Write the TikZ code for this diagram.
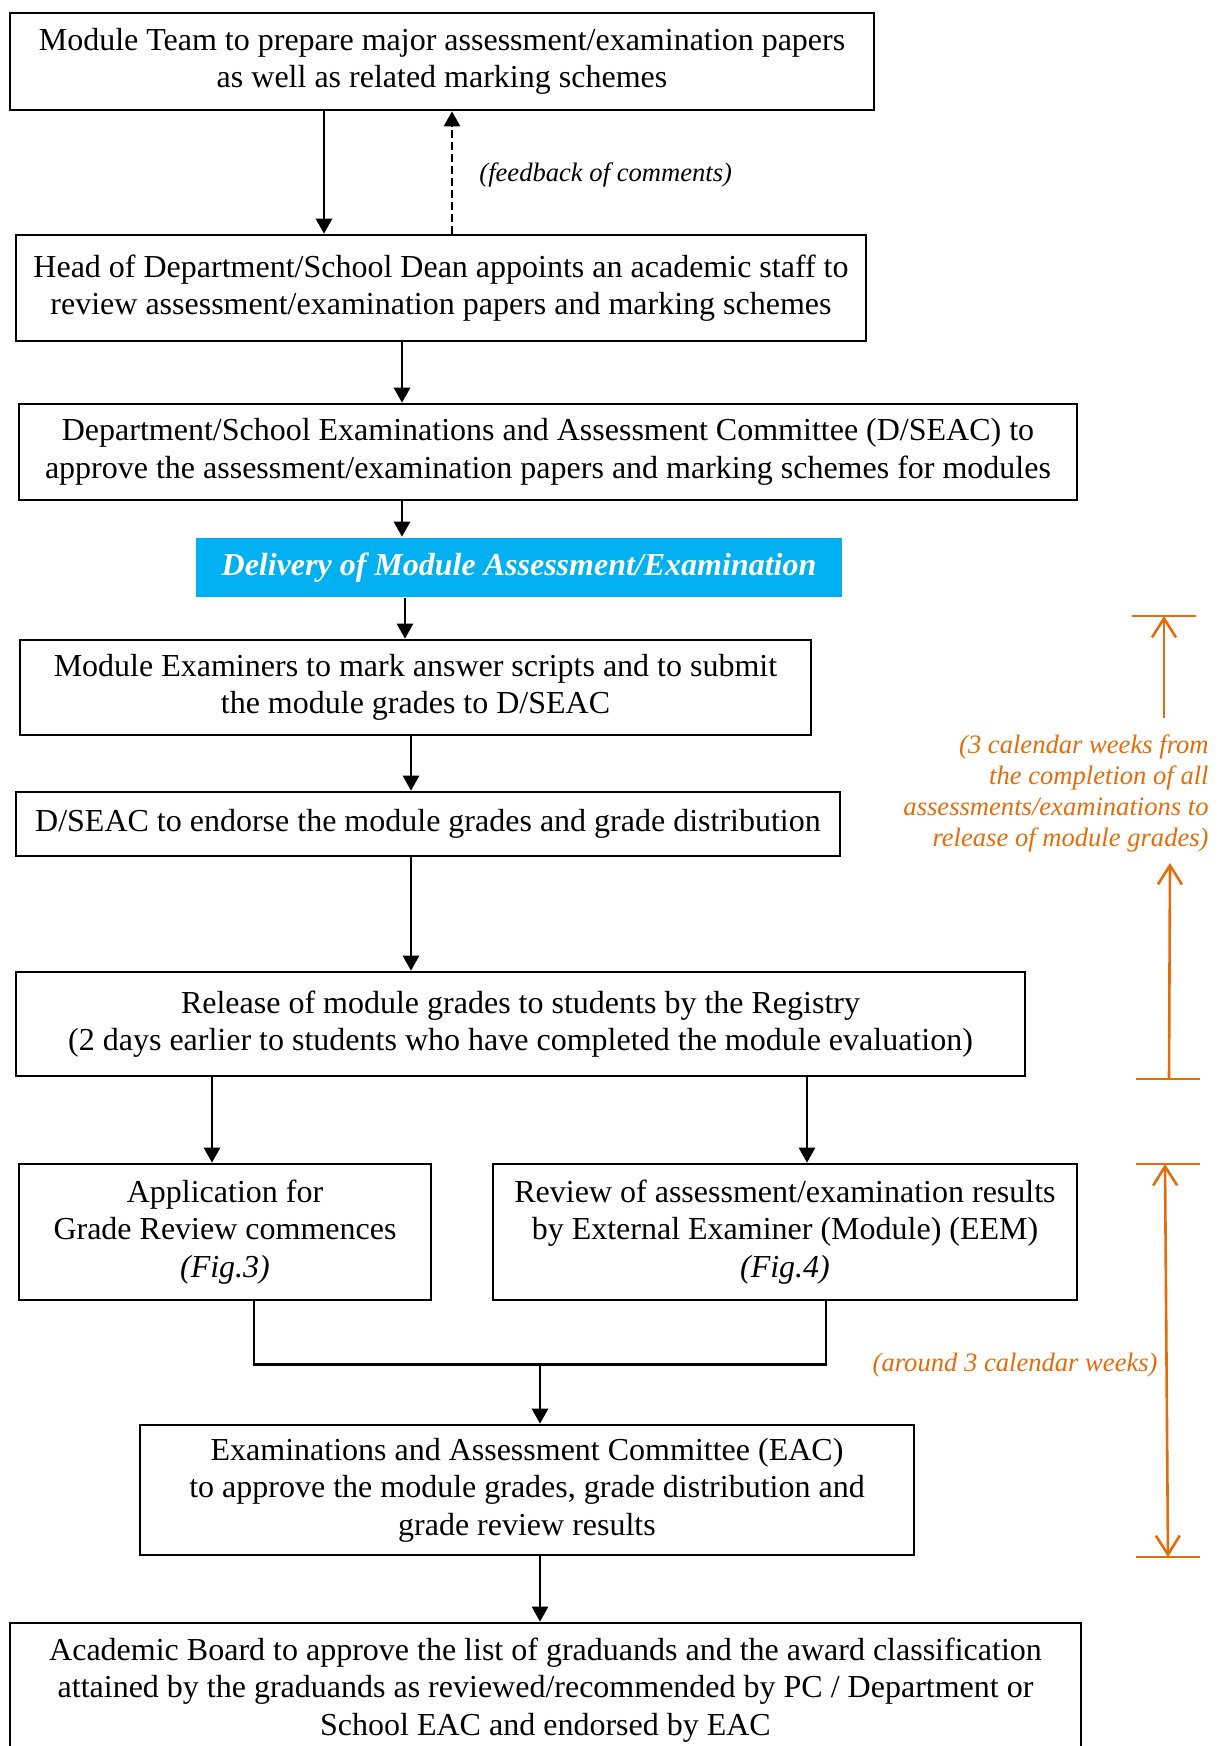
\documentclass[tikz,border=0pt]{standalone}
\usepackage{fontspec}
\setmainfont{Liberation Serif}
\usetikzlibrary{arrows.meta}
\definecolor{deliveryblue}{HTML}{00B0F0}
\definecolor{weekorange}{HTML}{E46C0A}

\begin{document}
\begin{tikzpicture}[x=0.5pt,y=-0.5pt,>={Triangle[length=7.5pt,width=8pt]},
  every node/.style={font=\fontsize{16}{18.8}\selectfont},
  stage/.style={draw,line width=1.3pt,inner sep=0pt,align=center},
  flow/.style={->,line width=1.3pt},
  note/.style={font=\fontsize{13.3}{15.5}\selectfont\itshape,inner sep=0pt},
  weektip/.tip={Straight Barb[length=9.5pt,width=12pt]},
  weekline/.style={weekorange,line width=1.3pt}]
\useasboundingbox (0,0) rectangle (1227,1746);

\node[stage,minimum width=432pt,minimum height=48.5pt] (ModuleTeam) at (442,61.5)
  {Module Team to prepare major assessment/examination papers\\as well as related marking schemes};
\node[stage,minimum width=425pt,minimum height=53pt] (HeadDept) at (441,288)
  {Head of Department/School Dean appoints an academic staff to\\review assessment/examination papers and marking schemes};
\node[stage,minimum width=529pt,minimum height=48pt] (DSEAC) at (548,452)
  {Department/School Examinations and Assessment Committee (D/SEAC) to\\approve the assessment/examination papers and marking schemes for modules};
\node[stage,draw=none,fill=deliveryblue,text=white,font=\fontsize{16}{18.8}\selectfont\bfseries\itshape,
  minimum width=323pt,minimum height=29.5pt] (Delivery) at (519,567.5)
  {Delivery of Module Assessment/Examination};
\node[stage,minimum width=395.5pt,minimum height=47.5pt] (Marking) at (415.5,687.5)
  {Module Examiners to mark answer scripts and to submit\\the module grades to D/SEAC};
\node[stage,minimum width=412pt,minimum height=32pt] (Endorse) at (428,824)
  {D/SEAC to endorse the module grades and grade distribution};
\node[stage,minimum width=504.5pt,minimum height=52pt] (Release) at (520.5,1024)
  {Release of module grades to students by the Registry\\(2 days earlier to students who have completed the module evaluation)};
\node[stage,minimum width=206pt,minimum height=68pt] (GradeReview) at (225,1232)
  {Application for\\Grade Review commences\\\textit{(Fig.3)}};
\node[stage,minimum width=292pt,minimum height=68pt] (ExtReview) at (785,1232)
  {Review of assessment/examination results\\by External Examiner (Module) (EEM)\\\textit{(Fig.4)}};
\node[stage,minimum width=387pt,minimum height=65pt] (EAC) at (527,1490)
  {Examinations and Assessment Committee (EAC)\\to approve the module grades, grade distribution and\\grade review results};
\node[stage,minimum width=535.5pt,minimum height=67pt] (AcadBoard) at (545.5,1690)
  {Academic Board to approve the list of graduands and the award classification\\attained by the graduands as reviewed/recommended by PC / Department or\\School EAC and endorsed by EAC};

\node[note,anchor=west] (Feedback) at (479,175) {(feedback of comments)};

\path ([xshift=-59pt]ModuleTeam.south) edge[flow] ([xshift=-59pt]ModuleTeam.south |- HeadDept.north)
      ([xshift=5.5pt]HeadDept.north) edge[flow,dash pattern=on 4pt off 2pt] ([xshift=5.5pt]HeadDept.north |- ModuleTeam.south)
      ([xshift=-19.5pt]HeadDept.south) edge[flow] ([xshift=-19.5pt]HeadDept.south |- DSEAC.north)
      ([xshift=-73pt]DSEAC.south) edge[flow] ([xshift=-73pt]DSEAC.south |- Delivery.north)
      ([xshift=-57pt]Delivery.south) edge[flow] ([xshift=-57pt]Delivery.south |- Marking.north)
      ([xshift=-2.25pt]Marking.south) edge[flow] ([xshift=-2.25pt]Marking.south |- Endorse.north)
      ([xshift=-8.5pt]Endorse.south) edge[flow] ([xshift=-8.5pt]Endorse.south |- Release.north)
      ([xshift=-154.25pt]Release.south) edge[flow] ([xshift=-154.25pt]Release.south |- GradeReview.north)
      ([xshift=143.25pt]Release.south) edge[flow] ([xshift=143.25pt]Release.south |- ExtReview.north);

\coordinate (Join) at ([yshift=-31.5pt]GradeReview.south);
\draw[line width=1.3pt] ([xshift=14.5pt]GradeReview.south) |- ([xshift=20.5pt]ExtReview.south |- Join)
  -- ([xshift=20.5pt]ExtReview.south);
\path ([xshift=6.5pt]EAC.north |- Join) edge[flow] ([xshift=6.5pt]EAC.north)
      ([xshift=6.5pt]EAC.south) edge[flow] ([xshift=6.5pt]EAC.south |- AcadBoard.north);

\coordinate (MarkTop) at (1164,616);
\coordinate (MarkBottom) at (1169,1079);
\coordinate (ReviewTop) at (1165,1164);
\coordinate (ReviewBottom) at (1168,1557);
\node[note,weekorange,anchor=east,align=right] (WeeksNote) at (1209,793.5)
  {(3 calendar weeks from\\the completion of all\\assessments/examinations to\\release of module grades)};
\node[note,weekorange,anchor=east] (ReviewNote) at (1158,1365) {(around 3 calendar weeks)};
\draw[weekline] ([xshift=-16pt]MarkTop) -- ([xshift=16pt]MarkTop);
\draw[weekline] ([xshift=-16.5pt]MarkBottom) -- ([xshift=15.5pt]MarkBottom);
\draw[weekline,-weektip] (1164,718) -- (MarkTop);
\draw[weekline,-weektip] (MarkBottom) -- (1170,863);
\draw[weekline] ([xshift=-14.5pt]ReviewTop) -- ([xshift=17.5pt]ReviewTop);
\draw[weekline] ([xshift=-16pt]ReviewBottom) -- ([xshift=16pt]ReviewBottom);
\draw[weekline,weektip-weektip] (ReviewTop) -- (ReviewBottom);
\end{tikzpicture}
\end{document}
